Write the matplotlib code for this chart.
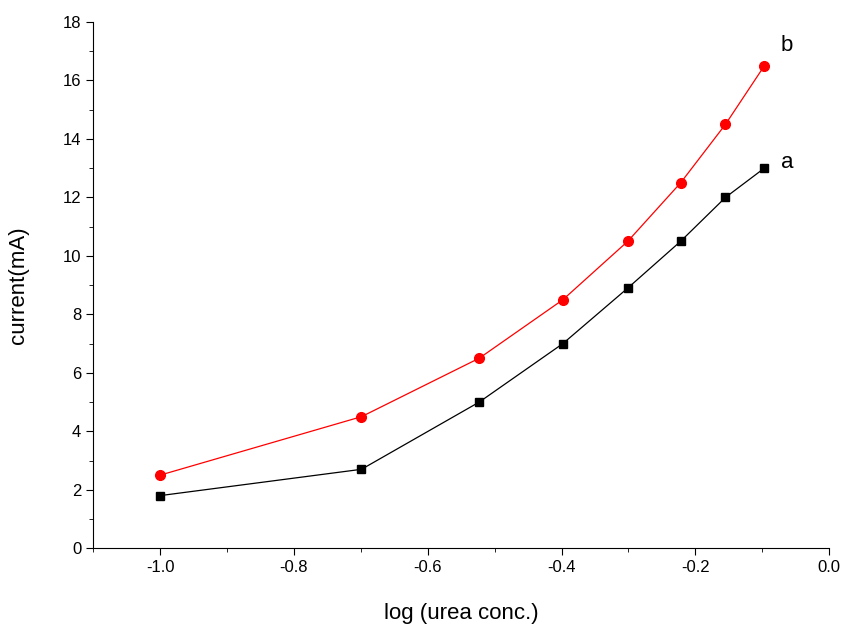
import numpy as np
import matplotlib.pyplot as plt
from matplotlib.ticker import MultipleLocator

log_conc = [-1.0, -0.699, -0.523, -0.398, -0.301, -0.222, -0.155, -0.097]
current_a = [1.8, 2.7, 5.0, 7.0, 8.9, 10.5, 12.0, 13.0]
current_b = [2.5, 4.5, 6.5, 8.5, 10.5, 12.5, 14.5, 16.5]

plt.rcParams['font.family'] = ['Liberation Sans', 'DejaVu Sans']
fig = plt.figure(figsize=(8.47, 6.28), dpi=100)
ax = fig.add_axes([0.110, 0.127, 0.869, 0.838])

ax.plot(log_conc, current_a, 's-', color='black', lw=0.9, markersize=6)
ax.plot(log_conc, current_b, 'o-', color='red', lw=0.9, markersize=7)
ax.text(log_conc[-1] + 0.025, current_a[-1], 'a', fontsize=16)
ax.text(log_conc[-1] + 0.025, current_b[-1] + 0.5, 'b', fontsize=16)

ax.set_xlim(-1.1, 0.0)
ax.set_ylim(0, 18)
ax.xaxis.set_major_locator(MultipleLocator(0.2))
ax.xaxis.set_minor_locator(MultipleLocator(0.1))
ax.yaxis.set_major_locator(MultipleLocator(2))
ax.yaxis.set_minor_locator(MultipleLocator(1))
ax.set_xticks(np.arange(-1.0, 0.01, 0.2))
ax.set_xticklabels(['-1.0', '-0.8', '-0.6', '-0.4', '-0.2', '0.0'])
ax.tick_params(direction='out', labelsize=12, length=5)
ax.tick_params(which='minor', direction='out', length=3)
for s in ['top', 'right']:
    ax.spines[s].set_visible(False)
ax.set_xlabel('log (urea conc.)', fontsize=16, labelpad=20)
ax.set_ylabel('current(mA)', fontsize=16, labelpad=24)

fig.savefig('out.png', dpi=100)
